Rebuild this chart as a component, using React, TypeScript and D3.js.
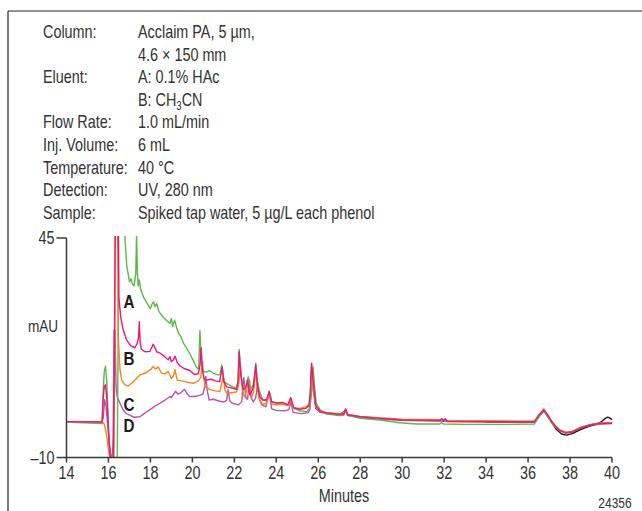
import React from "react";
import * as d3 from "d3";

// chromatogram traces, [minutes, mAU]
const traceA: [number, number][] = [
  [14, -1.1], [14.8, -1.3], [15.7, -1.5], [15.74, 6], [15.8, 11.5], [15.86, 12.9], [15.92, 9], [15.97, 2],
  [16.02, -5], [16.08, -10.5], [16.2, -9.5], [16.3, -11], [16.42, -11], [16.46, 20], [16.5, 60], [16.7, 60],
  [16.79, 45], [16.87, 38], [16.94, 36], [17.0, 34], [17.08, 34.8], [17.14, 33.5], [17.22, 33], [17.3, 36],
  [17.34, 46], [17.38, 36], [17.42, 33], [17.47, 34.5], [17.53, 32.3], [17.66, 30.3], [17.8, 29], [18.0, 27.3],
  [18.08, 28.5], [18.15, 29], [18.22, 27.8], [18.3, 28.6], [18.4, 26.6], [18.6, 25.2], [18.8, 24.2], [18.93, 23.6],
  [19.0, 24.8], [19.06, 22.8], [19.15, 24.4], [19.25, 22.5], [19.33, 21.2], [19.45, 20.3], [19.56, 18.8], [19.7, 17.6],
  [19.88, 16], [20.05, 14.2], [20.2, 12.6], [20.3, 12], [20.36, 21.8], [20.42, 14], [20.5, 11.6], [20.68, 11.4],
  [20.8, 11.8], [21.0, 11.1], [21.23, 10.7], [21.32, 10.8], [21.4, 13.2], [21.48, 10], [21.55, 8.8], [21.75, 8.2],
  [21.95, 7.7], [22.1, 7.4], [22.17, 9], [22.23, 17.1], [22.3, 12], [22.36, 8.6], [22.5, 7.7], [22.58, 8],
  [22.66, 10.2], [22.77, 7], [22.9, 8.2], [22.96, 10], [23.02, 13.6], [23.1, 9], [23.18, 7], [23.34, 4.6],
  [23.53, 4.4], [23.6, 5], [23.66, 6.7], [23.77, 4], [24.0, 3.6], [24.32, 3.6], [24.56, 3.1], [24.69, 4.8],
  [24.83, 2.3], [25.12, 1.7], [25.44, 1.5], [25.6, 2.4], [25.68, 6], [25.75, 12.7], [25.82, 8], [25.9, 3.6],
  [26.07, 2.1], [26.39, 0.9], [27.02, 0.5], [27.22, 0.6], [27.3, 1.9], [27.38, 0.6], [27.98, -0.2], [28.93, -0.6],
  [29.88, -1.3], [30.68, -1.6], [31.8, -1.6], [31.87, -1.3], [31.95, -1.6], [33, -1.7], [35, -1.7], [36.3, -1.6],
  [36.5, 0], [36.75, 1.7], [36.95, 0.2], [37.1, -1.2], [37.3, -2.4], [37.5, -3.2], [37.8, -3.8], [38.1, -3.6],
  [38.5, -2.6], [39.0, -1.8], [39.5, -1.4], [40, -1.4],
];

const traceB: [number, number][] = [
  [14, -1.0], [15.7, -1.1], [15.74, 4], [15.8, 7.8], [15.86, 8.2], [15.92, 5], [15.98, -1], [16.04, -7],
  [16.1, -10.5], [16.24, -11], [16.3, 30], [16.34, 60], [16.44, 60], [16.5, 30], [16.58, 25.3], [16.7, 22],
  [16.87, 19.4], [17.0, 18.4], [17.1, 17.9], [17.26, 17.5], [17.37, 18.6], [17.43, 20], [17.47, 24], [17.51, 19],
  [17.56, 17.2], [17.74, 16.5], [17.98, 16.6], [18.13, 18.4], [18.3, 16.5], [18.45, 16.2], [18.6, 15.6], [18.77, 14.8],
  [18.85, 14.5], [18.93, 15.3], [19.0, 14], [19.1, 14.5], [19.17, 15.4], [19.28, 13.8], [19.4, 13], [19.6, 12.3],
  [19.88, 11.8], [20.1, 10.8], [20.28, 11], [20.36, 13], [20.42, 17.5], [20.48, 12], [20.55, 9.8], [20.68, 9.4],
  [20.9, 9.6], [21.1, 9.2], [21.3, 9], [21.42, 12.7], [21.5, 9], [21.63, 7.7], [21.9, 7.4], [22.1, 7.1],
  [22.18, 9], [22.23, 16.5], [22.3, 11], [22.42, 7], [22.55, 7.5], [22.63, 9.4], [22.74, 5.7], [22.9, 7.5],
  [23.02, 13.2], [23.1, 8], [23.21, 5.2], [23.35, 4.4], [23.53, 4.4], [23.66, 6.5], [23.78, 4.0], [24.0, 3.7],
  [24.3, 3.8], [24.55, 3.2], [24.69, 5.0], [24.83, 2.5], [25.1, 2.1], [25.4, 2.3], [25.56, 3.0], [25.62, 6],
  [25.68, 13.6], [25.76, 9], [25.88, 3.0], [26.1, 1.5], [26.4, 1.2], [27.0, 0.8], [27.22, 0.9], [27.3, 2.2],
  [27.4, 0.7], [28, 0.2], [29, -0.2], [30, -0.6], [31.8, -0.7], [31.88, -0.3], [31.96, -0.8], [32.05, -0.3],
  [32.15, -1.0], [34, -1.0], [36.3, -1.0], [36.5, 0.5], [36.75, 1.9], [36.95, 0.5], [37.1, -0.8], [37.3, -2.2],
  [37.5, -3.2], [37.8, -3.8], [38.1, -3.6], [38.5, -2.6], [39.0, -1.8], [39.5, -1.4], [40, -1.4],
];

const traceC: [number, number][] = [
  [14, -1.0], [15.7, -1.1], [15.8, -1.6], [15.9, -4], [16.0, -8], [16.08, -10.5], [16.25, -11], [16.3, 20],
  [16.33, 60], [16.42, 60], [16.47, 20], [16.55, 12], [16.63, 9.4], [16.79, 8.2], [16.94, 7.9], [17.18, 9],
  [17.5, 10.7], [17.74, 11.1], [18.0, 12], [18.13, 12.8], [18.22, 12.2], [18.3, 12.4], [18.37, 12.7], [18.53, 11.1],
  [18.69, 11], [18.85, 11.5], [19.0, 9.8], [19.1, 10.5], [19.17, 12], [19.28, 9.4], [19.64, 9], [20.04, 8.6],
  [20.28, 9.2], [20.4, 10], [20.48, 14], [20.54, 10], [20.6, 7.8], [20.83, 7.0], [21.1, 6.7], [21.31, 6.5],
  [21.47, 10.2], [21.55, 7], [21.63, 6.1], [22.1, 6.4], [22.2, 8], [22.3, 12.8], [22.38, 7], [22.48, 5.2],
  [22.58, 6.5], [22.66, 9], [22.82, 4.9], [22.92, 6.5], [23.02, 11.9], [23.1, 7], [23.2, 4.4], [23.35, 3.4],
  [23.5, 3.4], [23.66, 6.0], [23.8, 3.4], [24.0, 3.2], [24.3, 3.3], [24.55, 3.0], [24.69, 4.5], [24.83, 2.4],
  [25.1, 2.3], [25.4, 2.7], [25.56, 3.3], [25.62, 6], [25.68, 13.2], [25.76, 8], [25.88, 2.8], [26.1, 1.6],
  [26.4, 1.2], [27.0, 1.0], [27.22, 1.0], [27.3, 2.0], [27.4, 0.8], [28, 0.3], [29, -0.1], [30, -0.4],
  [31.8, -0.5], [31.9, -0.3], [32.0, -0.6], [32.15, -0.8], [34, -0.8], [36.3, -0.9], [36.5, 0.6], [36.75, 2.2],
  [36.95, 0.6], [37.1, -0.7], [37.3, -2.0], [37.5, -3.0], [37.8, -3.7], [38.1, -3.5], [38.5, -2.4], [39.0, -1.7],
  [39.5, -1.3], [40, -1.3],
];

const traceD: [number, number][] = [
  [14, -1.0], [15.7, -1.1], [15.75, 0], [15.82, 4.5], [15.88, 3], [15.95, -1], [16.02, -5], [16.1, -9],
  [16.18, -11], [16.22, -5], [16.27, 22], [16.31, 22], [16.36, 8], [16.42, 5.2], [16.55, 3.6], [16.7, 1.9],
  [16.85, 1.0], [17.02, 0.6], [17.2, 0.1], [17.5, 0.2], [17.7, 1.0], [17.98, 2.0], [18.2, 2.8], [18.45, 3.6],
  [18.7, 4.4], [18.93, 5.3], [19.0, 5.0], [19.2, 6.6], [19.3, 5.9], [19.45, 6.2], [19.62, 7.1], [19.75, 6],
  [19.88, 5.3], [20.1, 5.3], [20.3, 5.5], [20.5, 5.9], [20.58, 7.5], [20.64, 10.3], [20.7, 7], [20.8, 4.4],
  [21.0, 4.6], [21.31, 4.1], [21.5, 3.9], [21.63, 4.3], [21.7, 7.0], [21.78, 4.2], [21.9, 3.6], [22.2, 3.2],
  [22.35, 4], [22.45, 10], [22.55, 5], [22.63, 4.6], [22.72, 9.4], [22.8, 5], [22.9, 3.9], [23.02, 5],
  [23.12, 8.7], [23.2, 4.5], [23.32, 3.1], [23.5, 2.7], [23.66, 6.2], [23.78, 2.2], [24.0, 1.8], [24.4, 1.7],
  [24.6, 2.0], [24.69, 4.0], [24.8, 1.3], [25.2, 1.0], [25.5, 1.2], [25.6, 2], [25.68, 12.5], [25.76, 7],
  [25.88, 2.2], [26.1, 1.3], [26.4, 1.0], [27.0, 0.7], [27.3, 1.8], [27.4, 0.5], [28, 0.0], [29, -0.4],
  [30, -0.7], [32, -0.9], [34, -1.1], [36.3, -1.1], [36.75, 1.8], [37.1, -0.9], [37.5, -3.3], [37.8, -3.8],
  [38.1, -3.6], [38.5, -2.6], [39, -1.8], [40, -1.5],
];

// black run, only seen where it leaves the others at the end
const traceBlank: [number, number][] = [
  [34, -1.1], [36.3, -1.1], [36.75, 1.8], [37.1, -1.0], [37.35, -3.0], [37.6, -4.1], [37.85, -4.4], [38.1, -4.0],
  [38.5, -3.0], [38.9, -2.2], [39.3, -1.6], [39.5, -1.0], [39.68, -0.2], [39.8, 0.1], [39.92, -0.2], [40, -0.5],
];

const xTicks = [14, 16, 18, 20, 22, 24, 26, 28, 30, 32, 34, 36, 38, 40];
const yTicks = [45, -10];
const yTickLabels = ["45", "\u201310"];

const traceLabels = ["A", "B", "C", "D"];
const traceLabelY = [29, 14.9, 3.4, -2.1]; // mAU, centre of the letter
const traceLabelX = 16.98;

const headerLabels = ["Column:", "", "Eluent:", "", "Flow Rate:", "Inj. Volume:", "Temperature:", "Detection:", "Sample:"];
const headerValues = ["Acclaim PA, 5 \u00b5m,", "4.6 \u00d7 150 mm", "A: 0.1% HAc", "B: CH3CN", "1.0 mL/min", "6 mL", "40 \u00b0C", "UV, 280 nm", "Spiked tap water, 5 \u00b5g/L each phenol"];

const FONT = "'Liberation Sans', Arial, sans-serif";
const AXIS = "#3a3a3a";
const SQ = 0.8; // condensed look

function T(props: { x: number; y: number; size: number; anchor?: string; bold?: boolean; fill?: string; children: React.ReactNode }) {
  return (
    <text
      transform={`translate(${props.x},${props.y}) scale(${SQ},1)`}
      textAnchor={props.anchor || "start"}
      fontSize={props.size}
      fontWeight={props.bold ? "bold" : "normal"}
      fill={props.fill || "#333"}
    >
      {props.children}
    </text>
  );
}

export default function App() {
  const W = 642;
  const H = 511;
  const x = d3.scaleLinear().domain([14, 40]).range([66.5, 612]);
  const y = d3.scaleLinear().domain([-10, 45]).range([457.5, 238]);
  const line = d3
    .line<[number, number]>()
    .x((d) => x(d[0]))
    .y((d) => y(d[1]));

  const series = [
    { data: traceBlank, color: "#151515" },
    { data: traceD, color: "#b655a6" },
    { data: traceA, color: "#5bb849" },
    { data: traceC, color: "#f6841f" },
    { data: traceB, color: "#e9197c" },
  ];

  const renderValue = (v: string) => {
    if (v === "B: CH3CN") {
      return (
        <>
          B: CH
          <tspan fontSize={12} dy={4}>3</tspan>
          <tspan dy={-4}>CN</tspan>
        </>
      );
    }
    return v;
  };

  return (
    <svg width={W} height={H} style={{ position: "absolute", left: 0, top: 0, background: "#fff" }} fontFamily={FONT}>
      <defs>
        <clipPath id="plot">
          <rect x={x(14)} y={y(45) - 2} width={x(40) - x(14) + 2} height={y(-10) - y(45) + 2} />
        </clipPath>
      </defs>
      {/* frame */}
      <line x1={8} y1={11} x2={8} y2={H} stroke="#222" strokeWidth={1.2} />
      <line x1={8} y1={11} x2={W} y2={11} stroke="#222" strokeWidth={1.2} />

      {/* conditions */}
      {headerLabels.map((l, i) => (
        <T key={"l" + i} x={43} y={38 + i * 22.6} size={18}>{l}</T>
      ))}
      {headerValues.map((v, i) => (
        <T key={"v" + i} x={138} y={38 + i * 22.6} size={18}>{renderValue(v)}</T>
      ))}

      {/* traces */}
      <g clipPath="url(#plot)" fill="none" strokeWidth={1.4} strokeLinejoin="round">
        {series.map((s, i) => (
          <path key={i} d={line(s.data) || ""} stroke={s.color} />
        ))}
      </g>

      {/* axes */}
      <line x1={x(14)} x2={x(14)} y1={y(45)} y2={y(-10)} stroke={AXIS} strokeWidth={1.5} />
      <line x1={x(14)} x2={x(40)} y1={y(-10)} y2={y(-10)} stroke={AXIS} strokeWidth={1.5} />
      {yTicks.map((t, i) => (
        <g key={t}>
          <line x1={x(14) - 10} x2={x(14)} y1={y(t)} y2={y(t)} stroke={AXIS} strokeWidth={1.5} />
          <T x={x(14) - 12} y={y(t) + 6} anchor="end" size={18}>{yTickLabels[i]}</T>
        </g>
      ))}
      {xTicks.map((t) => (
        <g key={t}>
          <line x1={x(t)} x2={x(t)} y1={y(-10)} y2={y(-10) + 5} stroke={AXIS} strokeWidth={1.5} />
          <T x={x(t)} y={y(-10) + 21} anchor="middle" size={18}>{t}</T>
        </g>
      ))}
      <T x={43} y={332} anchor="middle" size={17}>mAU</T>
      <T x={344} y={502} anchor="middle" size={18}>Minutes</T>
      <T x={615} y={508} anchor="middle" size={15}>24356</T>

      {/* trace letters */}
      {traceLabels.map((l, i) => (
        <T key={l} x={x(traceLabelX)} y={y(traceLabelY[i]) + 6.5} anchor="middle" size={19} bold fill="#1a1a1a">{l}</T>
      ))}
    </svg>
  );
}
